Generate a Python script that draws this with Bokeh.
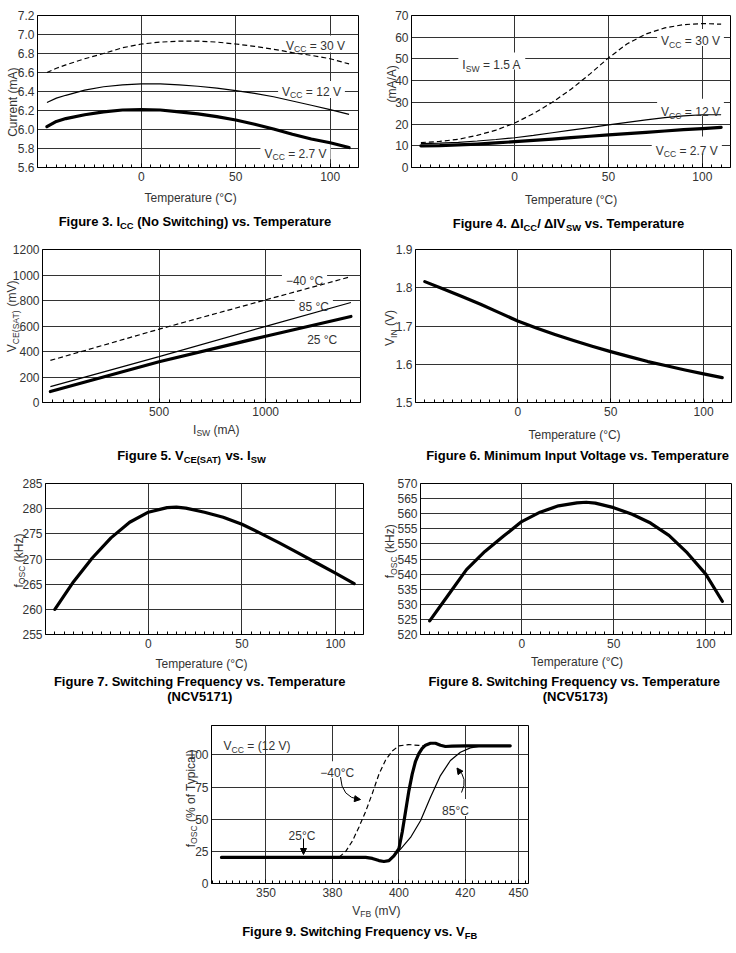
import math
from bokeh.plotting import figure
from bokeh.models import Label, Arrow, NormalHead, FixedTicker, PrintfTickFormatter, Spacer, GridBox
from bokeh.layouts import column, row
from bokeh.embed import file_html
from bokeh.resources import INLINE

# ---------------- data ----------------
# Figure 3: ICC (no switching) vs temperature
temp3 = [-50, -45, -40, -30, -20, -10, 0, 10, 20, 30, 40, 50, 60, 70, 80, 90, 100, 110]
icc_30v = [6.60, 6.645, 6.68, 6.745, 6.80, 6.86, 6.90, 6.92, 6.93, 6.93, 6.92, 6.90, 6.875, 6.845, 6.81, 6.78, 6.745, 6.69]
icc_12v = [6.285, 6.33, 6.36, 6.415, 6.45, 6.47, 6.48, 6.48, 6.47, 6.455, 6.435, 6.41, 6.38, 6.345, 6.30, 6.255, 6.21, 6.16]
icc_2v7 = [6.03, 6.085, 6.115, 6.155, 6.185, 6.205, 6.21, 6.205, 6.185, 6.165, 6.135, 6.10, 6.055, 6.005, 5.95, 5.90, 5.86, 5.81]

# Figure 4: dICC / dISW vs temperature
temp4 = [-50, -40, -30, -20, -10, 0, 10, 20, 30, 40, 50, 60, 70, 80, 90, 100, 110]
dicc_30v = [11.5, 12.0, 13.0, 14.8, 17.2, 20.5, 24.8, 30.0, 36.0, 43.0, 50.5, 57.0, 61.5, 64.3, 65.8, 66.3, 66.0]
dicc_12v = [11.0, 11.2, 11.6, 12.2, 12.9, 13.7, 14.8, 16.0, 17.2, 18.4, 19.6, 20.8, 21.9, 23.0, 23.8, 24.3, 24.3]
dicc_2v7 = [10.0, 10.1, 10.4, 10.8, 11.3, 11.9, 12.5, 13.1, 13.8, 14.4, 15.0, 15.6, 16.2, 16.8, 17.4, 17.9, 18.5]

# Figure 5: VCE(SAT) vs ISW
isw = [-10, 500, 1000, 1400]
vce_m40 = [330, 575, 805, 987]
vce_85 = [125, 360, 597, 784]
vce_25 = [86, 320, 520, 675]

# Figure 6: minimum input voltage vs temperature
temp6 = [-50, -40, -30, -20, -10, 0, 10, 20, 30, 40, 50, 60, 70, 80, 90, 100, 110]
vin_min = [1.816, 1.797, 1.777, 1.757, 1.735, 1.713, 1.695, 1.678, 1.662, 1.647, 1.633, 1.620, 1.607, 1.596, 1.585, 1.575, 1.565]

# Figure 7: switching frequency vs temperature (NCV5171)
temp7 = [-50, -40, -30, -20, -10, 0, 10, 15, 20, 30, 40, 50, 60, 70, 80, 90, 100, 110]
fosc_5171 = [260.0, 265.5, 270.2, 274.2, 277.3, 279.3, 280.2, 280.3, 280.1, 279.3, 278.3, 276.9, 275.1, 273.2, 271.2, 269.2, 267.2, 265.1]

# Figure 8: switching frequency vs temperature (NCV5173)
temp8 = [-50, -40, -30, -20, -10, 0, 10, 20, 30, 35, 40, 50, 60, 70, 80, 90, 100, 109]
fosc_5173 = [524.5, 533.0, 541.5, 547.5, 552.5, 557.4, 560.5, 562.6, 563.6, 563.8, 563.5, 562.0, 559.8, 556.9, 552.8, 547.0, 540.0, 531.0]

# Figure 9: switching frequency vs VFB (x is the drawn position on the printed axis)
vfb_25 = [346.6, 390, 392, 394, 395.5, 397, 398.5, 400, 401, 402, 403, 404, 405, 406, 407, 408, 409.5, 411, 412.5, 414, 416, 420, 433.5]
pct_25 = [20.3, 20.3, 19.5, 17.8, 17.1, 17.8, 21.5, 27, 40, 56, 72, 85, 95, 101, 105, 107.5, 109, 109, 107.5, 106.5, 106.8, 107, 107]
vfb_m40 = [382, 384, 386, 388, 390, 392, 394, 396, 398, 400, 403, 406, 408]
pct_m40 = [20.5, 25, 33, 44, 56, 70, 85, 96, 103, 107, 108, 107.3, 107.2]
vfb_85 = [390, 392, 394, 395.5, 397, 398.5, 400.5, 403.5, 406.5, 409.5, 412.5, 415.5, 418.5, 421.5, 424.5, 428, 433.5]
pct_85 = [20.3, 19.5, 17.8, 17.1, 17.8, 21.6, 26.8, 35.8, 48.8, 67, 83.9, 95.6, 102, 105.4, 106.7, 107, 107]
vfb_ticks = [360, 380, 400, 420, 436]
vfb_tick_labels = ["350", "380", "400", "420", "450"]

# ---------------- styling helpers ----------------
FONT = "Liberation Sans"
TXT = "#333333"
GRID = "#333333"
PAGE_W, PAGE_H = 736, 953

REG = {' ': 278, '!': 278, '(': 333, ')': 333, '%': 889, '-': 333, '.': 278, '/': 278, '=': 584,
       '°': 400, '−': 584, 'Δ': 668, 'A': 667, 'B': 667, 'C': 722, 'D': 722, 'E': 667, 'F': 611,
       'G': 778, 'H': 722, 'I': 278, 'J': 500, 'K': 667, 'L': 556, 'M': 833, 'N': 722, 'O': 778,
       'P': 667, 'Q': 778, 'R': 722, 'S': 667, 'T': 611, 'U': 722, 'V': 667, 'W': 944, 'X': 667,
       'Y': 667, 'Z': 611, 'a': 556, 'b': 556, 'c': 500, 'd': 556, 'e': 556, 'f': 278, 'g': 556,
       'h': 556, 'i': 222, 'j': 222, 'k': 500, 'l': 222, 'm': 833, 'n': 556, 'o': 556, 'p': 556,
       'q': 556, 'r': 333, 's': 500, 't': 278, 'u': 556, 'v': 500, 'w': 722, 'x': 500, 'y': 500, 'z': 500}
BOLD = {' ': 278, '(': 333, ')': 333, '.': 278, '/': 278, '-': 333, 'Δ': 722, 'A': 722, 'B': 722,
        'C': 722, 'D': 722, 'E': 667, 'F': 611, 'G': 778, 'H': 722, 'I': 278, 'N': 722, 'O': 778,
        'P': 667, 'Q': 778, 'R': 722, 'S': 667, 'T': 611, 'U': 722, 'V': 667, 'W': 944, 'a': 556,
        'b': 611, 'c': 556, 'd': 611, 'e': 556, 'f': 333, 'g': 611, 'h': 611, 'i': 278, 'l': 278,
        'm': 889, 'n': 611, 'o': 611, 'p': 611, 'q': 611, 'r': 389, 's': 556, 't': 333, 'u': 611,
        'v': 556, 'w': 778, 'y': 556, 'z': 500}


def text_width(s, bold, size):
    tbl = BOLD if bold else REG
    return sum(tbl.get(ch, 556) for ch in s) / 1000.0 * size


# transparent overlay that carries all texts, in page pixel coordinates
ov = figure(width=PAGE_W, height=PAGE_H, x_range=(0, PAGE_W), y_range=(PAGE_H, 0),
            x_axis_type=None, y_axis_type=None, title=None, toolbar_location=None,
            output_backend="svg", min_border=0)
ov.background_fill_color = None
ov.border_fill_color = None
ov.outline_line_color = None


class Panel:
    def __init__(self, cell, frame, xr, yr):
        cx, cy, cw, ch = cell
        L, T, R, B = frame
        self.L, self.T, self.R, self.B = L, T, R, B
        self.xr, self.yr = xr, yr
        p = figure(width=cw, height=ch, x_range=xr, y_range=yr, output_backend="svg",
                   toolbar_location=None, title=None,
                   min_border_left=L - cx, min_border_right=cx + cw - R,
                   min_border_top=T - cy, min_border_bottom=cy + ch - B)
        p.background_fill_color = "white"
        p.border_fill_color = "white"
        p.outline_line_color = "black"
        p.outline_line_width = 1
        for ax in (p.xaxis, p.yaxis):
            ax.axis_line_color = "black"
            ax.major_label_text_font = FONT
            ax.major_label_text_font_size = "12px"
            ax.major_label_text_color = TXT
        p.xaxis.major_tick_in = 4
        p.xaxis.major_tick_out = 0
        p.xaxis.minor_tick_in = 3
        p.xaxis.minor_tick_out = 0
        p.xaxis.major_tick_line_color = "black"
        p.xaxis.minor_tick_line_color = "black"
        p.xaxis.major_label_standoff = 4
        p.yaxis.major_tick_in = 0
        p.yaxis.major_tick_out = 0
        p.yaxis.minor_tick_line_color = None
        p.yaxis.major_label_standoff = 3
        for g in (p.xgrid, p.ygrid):
            g.grid_line_color = GRID
            g.grid_line_width = 1
        self.p = p

    def X(self, px):
        x0, x1 = self.xr
        return x0 + (px - self.L) / (self.R - self.L) * (x1 - x0)

    def Y(self, py):
        y0, y1 = self.yr
        return y0 + (self.B - py) / (self.B - self.T) * (y1 - y0)

    def ticks(self, xt, yt, xminor=None, xfmt=None, yfmt=None):
        self.p.xaxis.ticker = FixedTicker(ticks=xt, minor_ticks=xminor or [])
        self.p.yaxis.ticker = FixedTicker(ticks=yt)
        if xfmt:
            self.p.xaxis.formatter = PrintfTickFormatter(format=xfmt)
        if yfmt:
            self.p.yaxis.formatter = PrintfTickFormatter(format=yfmt)


def rich(px, py, pieces, size=12, bold=False, color=TXT, vertical=False, box=None):
    """pieces: list of (text, is_subscript); (px, py) = page centre of the main text."""
    sub = round(size * 0.72, 1)
    sizes = [sub if s else size for _, s in pieces]
    widths = [text_width(t, bold, sz) for (t, _), sz in zip(pieces, sizes)]
    total = sum(widths)
    base_off = size * 0.36
    drop = size * 0.30
    if box is not None:
        box.p.rect(x=[box.X(px)], y=[box.Y(py + 1)], width=[total + 8], height=[size + 5],
                   width_units="screen", height_units="screen",
                   fill_color="white", line_color=None)
    pos = px - total / 2 if not vertical else py + total / 2
    for (t, s), sz, w in zip(pieces, sizes, widths):
        off = base_off + (drop if s else 0)
        stripped = t.lstrip(" ")
        lead = text_width(t[:len(t) - len(stripped)], bold, sz)
        stripped = stripped.rstrip(" ")
        if not vertical:
            lx, ly, ang = pos + lead, py + off, 0
            pos += w
        else:
            lx, ly, ang = px + off, pos - lead, math.pi / 2
            pos -= w
        if stripped:
            ov.add_layout(Label(x=lx, y=ly, text=stripped, angle=ang,
                                text_align="left", text_baseline="alphabetic",
                                text_font=FONT, text_font_size=f"{sz}px",
                                text_font_style="bold" if bold else "normal",
                                text_color=color))


def caption(px, py, pieces):
    rich(px, py, pieces, size=13, bold=True, color="black")


def thick(p, x, y):
    p.line(x, y, line_color="black", line_width=3.2, line_join="round", line_cap="round")


def thin(p, x, y):
    p.line(x, y, line_color="black", line_width=1.2)


def dashed(p, x, y):
    p.line(x, y, line_color="black", line_width=1.2, line_dash="5 3")


temp_minor = list(range(-50, 115, 5))
HEAD = dict(size=6, fill_color="black", line_color="black")

# ---------------- Figure 3 ----------------
f3 = Panel((0, 0, 368, 230), (37, 13, 358, 167), (-55, 115), (5.6, 7.2))
f3.ticks([0, 50, 100], [5.6, 5.8, 6.0, 6.2, 6.4, 6.6, 6.8, 7.0, 7.2], temp_minor, yfmt="%.1f")
rich(315, 41, [("V", 0), ("CC", 1), (" = 30 V", 0)], box=f3)
rich(311, 87, [("V", 0), ("CC", 1), (" = 12 V", 0)], box=f3)
rich(295, 149, [("V", 0), ("CC", 1), (" = 2.7 V", 0)], box=f3)
dashed(f3.p, temp3, icc_30v)
thin(f3.p, temp3, icc_12v)
thick(f3.p, temp3, icc_2v7)
rich(8.5, 101.7, [("Current (mA)", 0)], vertical=True)
rich(190.8, 193.5, [("Temperature (°C)", 0)])
caption(195, 216.5, [("Figure 3. I", 0), ("CC", 1), (" (No Switching) vs. Temperature", 0)])

# ---------------- Figure 4 ----------------
f4 = Panel((368, 0, 368, 230), (411, 15, 730, 170), (-55, 115), (0, 70))
f4.ticks([0, 50, 100], list(range(0, 71, 10)), temp_minor)
rich(491.3, 60.5, [("I", 0), ("SW", 1), (" = 1.5 A", 0)], box=f4)
rich(690, 36.5, [("V", 0), ("CC", 1), (" = 30 V", 0)], box=f4)
rich(690, 107.5, [("V", 0), ("CC", 1), (" = 12 V", 0)], box=f4)
rich(686.3, 146, [("V", 0), ("CC", 1), (" = 2.7 V", 0)], box=f4)
dashed(f4.p, temp4, dicc_30v)
thin(f4.p, temp4, dicc_12v)
thick(f4.p, temp4, dicc_2v7)
rich(387, 83.3, [("(mA/A)", 0)], vertical=True)
rich(571.3, 195, [("Temperature (°C)", 0)])
caption(568.5, 218, [("Figure 4. ΔI", 0), ("CC", 1), ("/ ΔIV", 0), ("SW", 1), (" vs. Temperature", 0)])

# ---------------- Figure 5 ----------------
f5 = Panel((0, 230, 368, 230), (42, 249, 360, 403), (-47, 1445), (0, 1200))
f5.ticks([500, 1000], list(range(0, 1201, 200)), list(range(0, 1401, 50)))
rich(304, 276.5, [("−40 °C", 0)], box=f5)
rich(313.3, 302, [("85 °C", 0)], box=f5)
rich(321.7, 335, [("25 °C", 0)])
dashed(f5.p, isw, vce_m40)
thin(f5.p, isw, vce_85)
thick(f5.p, isw, vce_25)
rich(7.5, 315.8, [("V", 0), ("CE(SAT)", 1), (" (mV)", 0)], vertical=True)
rich(215.8, 425, [("I", 0), ("SW", 1), (" (mA)", 0)])
caption(191, 450.5, [("Figure 5. V", 0), ("CE(SAT)", 1), (" vs. I", 0), ("SW", 1)])

# ---------------- Figure 6 ----------------
f6 = Panel((368, 230, 368, 230), (415, 248, 731, 402), (-55, 115), (1.5, 1.9))
f6.ticks([0, 50, 100], [1.5, 1.6, 1.7, 1.8, 1.9], temp_minor, yfmt="%.1f")
thick(f6.p, temp6, vin_min)
rich(385.5, 327.5, [("V", 0), ("IN", 1), (" (V)", 0)], vertical=True)
rich(574.7, 430, [("Temperature (°C)", 0)])
caption(576.3, 450.5, [("Figure 6. Minimum Input Voltage vs. Temperature", 0)])

# ---------------- Figure 7 ----------------
f7 = Panel((0, 460, 368, 245), (45, 483, 363, 635), (-55, 115), (255, 285))
f7.ticks([0, 50, 100], list(range(255, 286, 5)), temp_minor)
thick(f7.p, temp7, fosc_5171)
rich(14, 560, [("f", 0), ("OSC", 1), (" (kHz)", 0)], vertical=True)
rich(201.7, 659, [("Temperature (°C)", 0)])
caption(199.7, 676.5, [("Figure 7. Switching Frequency vs. Temperature", 0)])
caption(199.2, 691.5, [("(NCV5171)", 0)])

# ---------------- Figure 8 ----------------
f8 = Panel((368, 460, 368, 245), (420, 482, 731, 634), (-55, 114), (520, 570))
f8.ticks([0, 50, 100], list(range(520, 571, 5)), temp_minor)
thick(f8.p, temp8, fosc_5173)
rich(385.5, 550.8, [("f", 0), ("OSC", 1), (" (kHz)", 0)], vertical=True)
rich(577.2, 657.3, [("Temperature (°C)", 0)])
caption(574.2, 676.5, [("Figure 8. Switching Frequency vs. Temperature", 0)])
caption(574.7, 691.5, [("(NCV5173)", 0)])

# ---------------- Figure 9 ----------------
f9 = Panel((170, 705, 380, 248), (211, 725, 528, 883), (343.6, 439.0), (0, 122.8))
f9.ticks(vfb_ticks, [0, 25, 50, 75, 100], list(range(344, 439, 2)))
f9.p.xaxis.major_label_overrides = dict(zip(vfb_ticks, vfb_tick_labels))
rich(336.7, 768.3, [("−40°C", 0)], box=f9)
rich(455, 806, [("85°C", 0)], box=f9)
rich(301.5, 831, [("25°C", 0)])
rich(256.5, 741.5, [("V", 0), ("CC", 1), (" = (12 V)", 0)])
dashed(f9.p, vfb_m40, pct_m40)
thin(f9.p, vfb_85, pct_85)
thick(f9.p, vfb_25, pct_25)
# annotation arrows
f9.p.quadratic(x0=[f9.X(340)], y0=[f9.Y(776.5)], x1=[f9.X(359)], y1=[f9.Y(799)],
               cx=[f9.X(341)], cy=[f9.Y(797)], line_color="black", line_width=1)
f9.p.add_layout(Arrow(x_start=f9.X(355), y_start=f9.Y(798.3), x_end=f9.X(360), y_end=f9.Y(799),
                      line_color="black", line_width=1, end=NormalHead(**HEAD)))
f9.p.quadratic(x0=[f9.X(461)], y0=[f9.Y(792)], x1=[f9.X(457)], y1=[f9.Y(768)],
               cx=[f9.X(468)], cy=[f9.Y(778)], line_color="black", line_width=1)
f9.p.add_layout(Arrow(x_start=f9.X(459), y_start=f9.Y(771), x_end=f9.X(456.5), y_end=f9.Y(767.5),
                      line_color="black", line_width=1, end=NormalHead(**HEAD)))
f9.p.add_layout(Arrow(x_start=f9.X(303), y_start=f9.Y(838), x_end=f9.X(303), y_end=f9.Y(854),
                      line_color="black", line_width=1, end=NormalHead(**HEAD)))
rich(186, 797.5, [("f", 0), ("OSC", 1), (" (% of Typical)", 0)], vertical=True)
rich(375.8, 906, [("V", 0), ("FB", 1), (" (mV)", 0)])
caption(359.2, 926.5, [("Figure 9. Switching Frequency vs. V", 0), ("FB", 1)])

charts = column(
    row(f3.p, f4.p),
    row(f5.p, f6.p),
    row(f7.p, f8.p),
    row(Spacer(width=170, height=248), f9.p),
)

page = GridBox(children=[(charts, 0, 0), (ov, 0, 0)])

open("out.html", "w").write(file_html(page, INLINE))
